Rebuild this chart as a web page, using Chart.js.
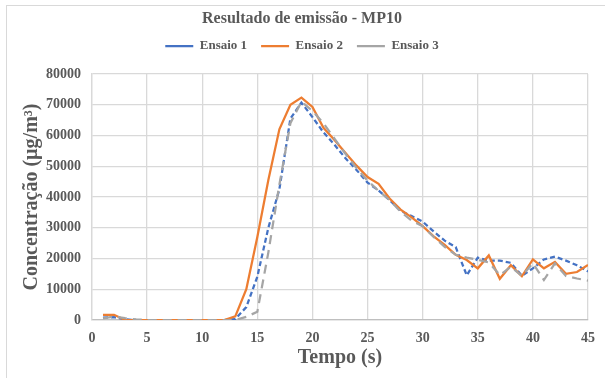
<!DOCTYPE html>
<html>
<head>
<meta charset="utf-8">
<script src="https://cdn.jsdelivr.net/npm/chart.js@4.4.1/dist/chart.umd.min.js"></script>
<style>
  html, body { margin: 0; padding: 0; background: #fff; overflow: hidden; }
  #moldura { position: absolute; left: 6px; top: 5px; width: 700px; height: 500px; border: 1px solid #d9d9d9; }
  #grafico { position: absolute; left: 0; top: 0; }
</style>
</head>
<body>
<div id="moldura"></div>
<canvas id="grafico" width="605" height="378"></canvas>
<script>
// Tempo (s) e concentração de MP10 (µg/m³) de cada ensaio
const tempo = [1, 2, 3, 4, 5, 6, 7, 8, 9, 10, 11, 12, 13, 14, 15, 16, 17, 18, 19, 20, 21, 22, 23,
  24, 25, 26, 27, 28, 29, 30, 31, 32, 33, 34, 35, 36, 37, 38, 39, 40, 41, 42, 43, 44, 45];

const ensaio1 = [800, 900, 200, 0, 0, 0, 0, 0, 0, 0, 0, 0, 300, 4200, 14100, 30000, 42500, 65500,
  70700, 66000, 61000, 57000, 52600, 48800, 44700, 42100, 39000, 35500, 33800, 32000, 28800,
  25800, 23700, 14500, 20300, 19300, 19300, 18600, 14400, 16800, 19700, 20600, 19300, 17800, 15800];

const ensaio2 = [1700, 1700, 0, 0, 0, 0, 0, 0, 0, 0, 0, 0, 1200, 10000, 27000, 45500, 62000, 70000,
  72300, 69300, 62500, 58500, 54300, 50200, 46500, 44300, 39500, 35900, 33400, 30500, 27200,
  24400, 21200, 19500, 16800, 21000, 13400, 17800, 14200, 19700, 16800, 18900, 15000, 15600, 17900];

const ensaio3 = [500, 1100, 600, 200, 0, 0, 0, 0, 0, 0, 0, 0, 0, 1000, 2700, 22000, 44000, 64000,
  71000, 68000, 64000, 59000, 54000, 49400, 45300, 42000, 39000, 35200, 32300, 30500, 27000,
  23800, 21200, 20300, 19600, 18700, 14600, 17300, 14300, 18500, 13000, 18400, 14300, 13500, 12800];

const fonte = "'Liberation Serif', 'Times New Roman', serif";
const corTexto = '#595959';
const corGrade = '#d9d9d9';

function serie(rotulo, valores, cor, tracejado, ordem) {
  return {
    label: rotulo,
    data: tempo.map((t, i) => ({ x: t, y: valores[i] })),
    borderColor: cor,
    backgroundColor: cor,
    borderWidth: 2.25,
    borderDash: tracejado,
    pointRadius: 0,
    tension: 0,
    fill: false,
    order: ordem
  };
}

// espaço extra abaixo da legenda antes da área do gráfico
const espacoLegenda = {
  id: 'espacoLegenda',
  beforeInit(chart) {
    const fitOriginal = chart.legend.fit;
    chart.legend.fit = function () {
      fitOriginal.call(this);
      this.height += 11.5;
    };
  }
};

new Chart(document.getElementById('grafico'), {
  type: 'line',
  data: {
    datasets: [
      serie('Ensaio 1', ensaio1, '#4472C4', [5, 3], 3),
      serie('Ensaio 2', ensaio2, '#ED7D31', [], 2),
      serie('Ensaio 3', ensaio3, '#A5A5A5', [9, 6], 1)
    ]
  },
  plugins: [espacoLegenda],
  options: {
    responsive: false,
    animation: false,
    devicePixelRatio: 1,
    layout: { padding: { left: 10, right: 11, top: 0, bottom: 0 } },
    plugins: {
      title: {
        display: true,
        text: 'Resultado de emissão - MP10',
        color: corTexto,
        font: { family: fonte, size: 16, weight: 'bold' },
        padding: { top: 9, bottom: -2.7 }
      },
      legend: {
        position: 'top',
        labels: {
          color: corTexto,
          font: { family: fonte, size: 13, weight: 'bold' },
          usePointStyle: true,
          pointStyle: 'line',
          pointStyleWidth: 28,
          boxHeight: 11,
          padding: 14,
          sort: (a, b) => a.datasetIndex - b.datasetIndex
        }
      },
      tooltip: { enabled: false }
    },
    scales: {
      x: {
        type: 'linear',
        min: 0,
        max: 45,
        afterFit: (s) => { s.height = 58; },
        ticks: {
          stepSize: 5,
          padding: 10,
          color: corTexto,
          font: { family: fonte, size: 14, weight: 'bold' }
        },
        grid: { color: corGrade, lineWidth: 1.3, drawTicks: false },
        border: { color: '#bfbfbf', width: 1.3 },
        title: {
          display: true,
          text: 'Tempo (s)',
          color: corTexto,
          font: { family: fonte, size: 20, weight: 'bold' },
          padding: { top: 0, bottom: 8 }
        }
      },
      y: {
        min: 0,
        max: 80000,
        afterFit: (s) => { s.width = 82; },
        ticks: {
          stepSize: 10000,
          padding: 11,
          color: corTexto,
          font: { family: fonte, size: 14, weight: 'bold' },
          callback: (v) => String(v)
        },
        grid: { color: corGrade, lineWidth: 1.3, drawTicks: false },
        border: { color: corGrade, width: 1.3 },
        title: {
          display: true,
          text: 'Concentração (µg/m³)',
          color: corTexto,
          font: { family: fonte, size: 20, weight: 'bold' },
          padding: { top: 10, bottom: 0 }
        }
      }
    }
  }
});
</script>
</body>
</html>
